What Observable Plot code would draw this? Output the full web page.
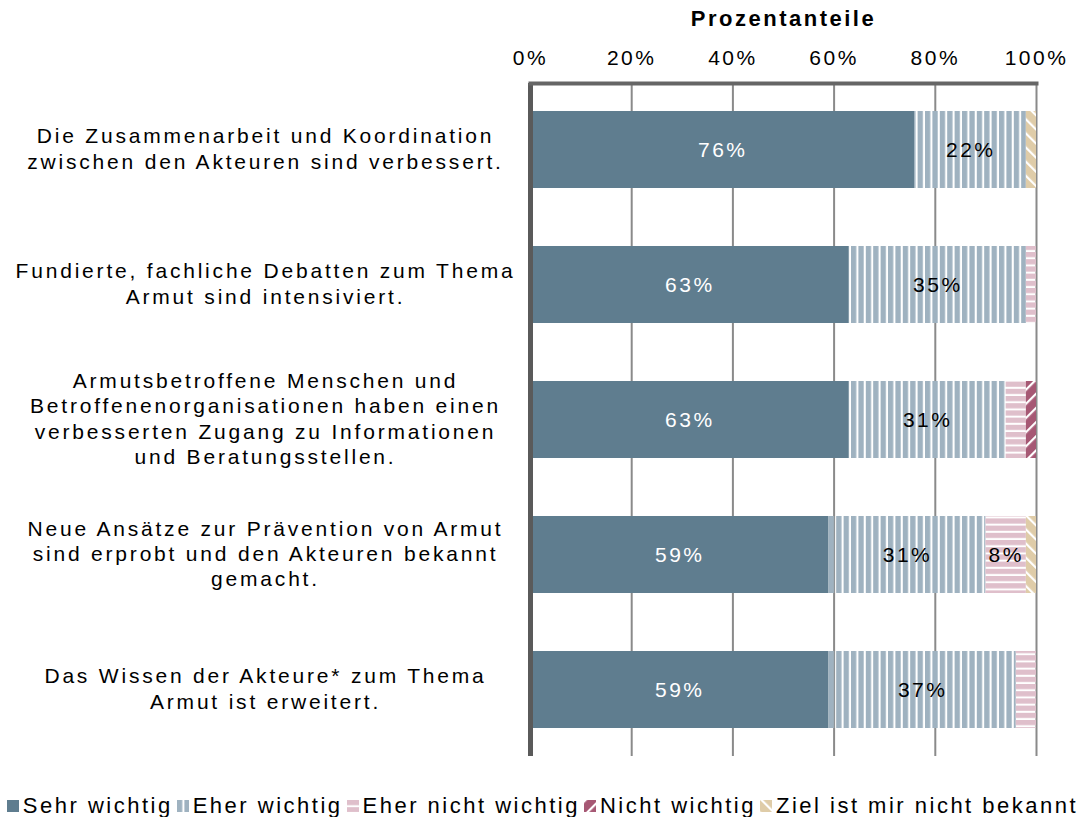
<!DOCTYPE html>
<html>
<head>
<meta charset="utf-8">
<script src="https://cdn.jsdelivr.net/npm/d3@7"></script>
<script src="https://cdn.jsdelivr.net/npm/@observablehq/plot@0.6"></script>
<style>
  body { margin: 0; background: #fff; font-family: "Liberation Sans", Arial, sans-serif; }
  #chart svg { display: block; }
  [aria-label="x-axis label"] text { font-weight: bold; font-size: 22px; }
  [aria-label="y-axis tick label"] text { letter-spacing: 2.8px; }
  #legend { display: flex; justify-content: center; align-items: center; margin-top: 14px; height: 24px;
    font-size: 22px; letter-spacing: 2.5px; color: #000; white-space: nowrap; }
  #legend .item { display: flex; align-items: center; margin-right: 4px; }
  #legend svg { margin-right: 4px; }
</style>
</head>
<body>
<svg width="0" height="0" style="position:absolute">
  <defs>
    <pattern id="pEher" patternUnits="userSpaceOnUse" width="7.4" height="10">
      <rect x="0" y="0" width="5.3" height="10" fill="#9fb2c0"></rect>
    </pattern>
    <pattern id="pEherNicht" patternUnits="userSpaceOnUse" width="10" height="7.2">
      <rect x="0" y="0" width="10" height="5.2" fill="#dfbfcb"></rect>
    </pattern>
    <pattern id="pNicht" patternUnits="userSpaceOnUse" width="10" height="10" patternTransform="rotate(45)">
      <rect x="0" y="0" width="10" height="10" fill="#a65874"></rect>
      <rect x="0" y="0" width="2.2" height="10" fill="#fff"></rect>
    </pattern>
    <pattern id="pZiel" patternUnits="userSpaceOnUse" width="10" height="10" patternTransform="rotate(-45)">
      <rect x="0" y="0" width="10" height="10" fill="#dfcca8"></rect>
      <rect x="0" y="0" width="2.2" height="10" fill="#fff"></rect>
    </pattern>
  </defs>
</svg>
<div id="chart"></div>
<div id="legend"></div>
<script>
const questions = [
  "Die Zusammenarbeit und Koordination\nzwischen den Akteuren sind verbessert.",
  "Fundierte, fachliche Debatten zum Thema\nArmut sind intensiviert.",
  "Armutsbetroffene Menschen und\nBetroffenenorganisationen haben einen\nverbesserten Zugang zu Informationen\nund Beratungsstellen.",
  "Neue Ansätze zur Prävention von Armut\nsind erprobt und den Akteuren bekannt\ngemacht.",
  "Das Wissen der Akteure* zum Thema\nArmut ist erweitert."
];
const categories = ["Sehr wichtig", "Eher wichtig", "Eher nicht wichtig", "Nicht wichtig", "Ziel ist mir nicht bekannt"];
const sehrWichtig      = [76, 63, 63, 59, 59];
const eherWichtig      = [22, 35, 31, 31, 37];
const eherNichtWichtig = [0, 2, 4, 8, 4];
const nichtWichtig     = [0, 0, 2, 0, 0];
const zielUnbekannt    = [2, 0, 0, 2, 0];
const xTicks = [0, 20, 40, 60, 80, 100];
const fills = ["#5f7d8f", "url(#pEher)", "url(#pEherNicht)", "url(#pNicht)", "url(#pZiel)"];

const series = [sehrWichtig, eherWichtig, eherNichtWichtig, nichtWichtig, zielUnbekannt];
const data = [];
questions.forEach((q, i) => {
  categories.forEach((c, j) => data.push({q, cat: c, value: series[j][i]}));
});

const chart = Plot.plot({
  width: 1089,
  height: 780,
  marginLeft: 530,
  marginRight: 53,
  marginTop: 83,
  marginBottom: 24,
  style: {fontFamily: "'Liberation Sans', Arial, sans-serif", fontSize: "21px", letterSpacing: "2.5px", color: "#000", background: "#fff"},
  x: {domain: [0, 100], ticks: xTicks, tickFormat: d => d + "%", label: "Prozentanteile"},
  y: {domain: questions, paddingInner: 0.43, paddingOuter: 0.2, label: null},
  color: {domain: categories, range: fills},
  marks: [
    Plot.ruleX(xTicks.slice(1), {stroke: "#8a8a8a", strokeWidth: 2}),
    Plot.barX(data, {x: "value", y: "q", fill: "cat"}),
    Plot.text(data, Plot.stackX({x: "value", y: "q", z: "cat",
      text: d => d.cat === "Sehr wichtig" ? d.value + "%" : null, fill: "white", fontSize: 21})),
    Plot.text(data, Plot.stackX({x: "value", y: "q", z: "cat",
      text: d => d.cat !== "Sehr wichtig" && d.value >= 8 ? d.value + "%" : null, fill: "black", fontSize: 21})),
    Plot.ruleX([0], {stroke: "#5a5a5a", strokeWidth: 5}),
    Plot.frame({anchor: "top", stroke: "#666", strokeWidth: 4}),
    Plot.axisX({anchor: "top", ticks: xTicks, tickFormat: d => d + "%", tickSize: 0, tickPadding: 19, fontSize: 21,
      label: "Prozentanteile", labelArrow: "none", labelAnchor: "center", labelOffset: 73}),
    Plot.axisY({anchor: "left", tickSize: 0, tickPadding: 0, textAnchor: "middle", dx: -265, dy: -2,
      lineHeight: 1.2, fontSize: 21, label: null})
  ]
});
document.getElementById("chart").appendChild(chart);

const legend = document.getElementById("legend");
categories.forEach((c, j) => {
  const item = document.createElement("span");
  item.className = "item";
  item.innerHTML = `<svg width="12" height="12"><rect width="12" height="12" fill="${fills[j]}"></rect></svg><span>${c}</span>`;
  legend.appendChild(item);
});
</script>
</body>
</html>
